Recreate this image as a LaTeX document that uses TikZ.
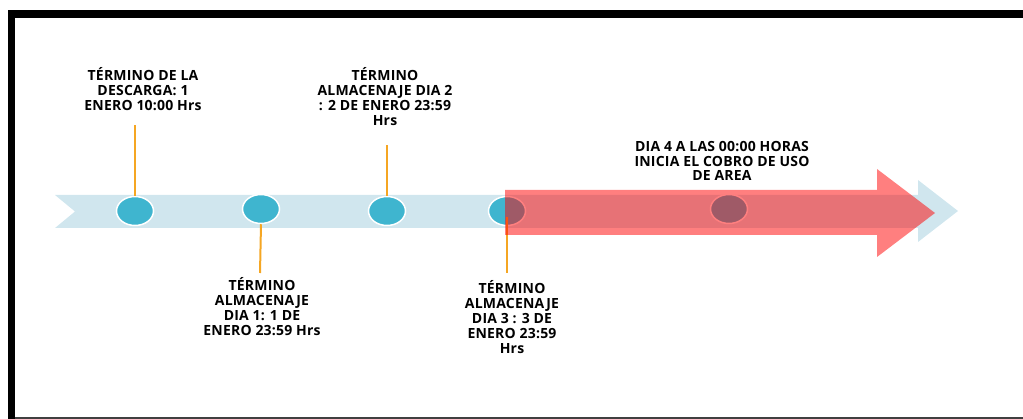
\documentclass[tikz,border=0pt]{standalone}
\usepackage{fontspec}
\setmainfont{Open Sans}[LetterSpace=1.5]
\usetikzlibrary{shapes.geometric}
\definecolor{ribbonblue}{HTML}{D0E6EE}
\definecolor{dotblue}{HTML}{3FB5CF}
\definecolor{stemorange}{HTML}{F5A623}
\tikzset{
  dot/.style={ellipse, fill=dotblue, draw=white, line width=1.5pt, minimum width=37pt, minimum height=29pt, inner sep=0pt},
  stem/.style={draw=stemorange, line width=2pt},
  lbl/.style={align=center, font=\bfseries\fontsize{14}{14.9}\selectfont, inner sep=0pt}
}
\begin{document}
\begin{tikzpicture}[x=1pt,y=-1pt]
\useasboundingbox (0,0) rectangle (1023,419);
% frame
\fill[black] (8,10) rectangle (1023,18);
\fill[black] (8,10) rectangle (15,419);
\draw[black!75, line width=1.5pt] (15,418.2) -- (1023,418.2);
% ribbon
\fill[ribbonblue] (55,195) -- (918,195) -- (918,180) -- (958,211) -- (918,242) -- (918,228) -- (55,228) -- (75,211.5) -- cycle;
% stems
\coordinate (t1) at (135,125);
\coordinate (t2) at (260,273);
\coordinate (t3) at (387,145);
\coordinate (t4) at (507,273);
% dots
\node[dot] (c1) at (135,211) {};
\node[dot] (c2) at (261,209) {};
\node[dot] (c3) at (387,211) {};
\node[dot] (c4) at (507,211) {};
\node[dot] (c5) at (729,209) {};
\draw[stem] (c1.north) -- (t1);
\draw[stem] (c2.south) -- (t2);
\draw[stem] (c3.north) -- (t3);
\draw[stem] (c4.center) ++(0,6) coordinate (s4) (s4) -- (t4);
% red arrow
\fill[red, opacity=0.5] (505,190) -- (877,190) -- (877,169) -- (935,213) -- (877,257) -- (877,235) -- (505,235) -- cycle;
% labels
\node[lbl] (l1) at (143,89) {TÉRMINO DE LA\\DESCARGA: 1\\ENERO 10:00 Hrs};
\node[lbl] (l2) at (385,96.5) {TÉRMINO\\ALMACENAJE DIA 2\\: 2 DE ENERO 23:59\\Hrs};
\node[lbl] (l3) at (262,306.5) {TÉRMINO\\ALMACENAJE\\DIA 1: 1 DE\\ENERO 23:59 Hrs};
\node[lbl] (l4) at (512,317) {TÉRMINO\\ALMACENAJE\\DIA 3 : 3 DE\\ENERO 23:59\\Hrs};
\node[lbl] (l5) at (722,161) {DIA 4 A LAS 00:00 HORAS\\INICIA EL COBRO DE USO\\DE AREA};
\end{tikzpicture}
\end{document}
